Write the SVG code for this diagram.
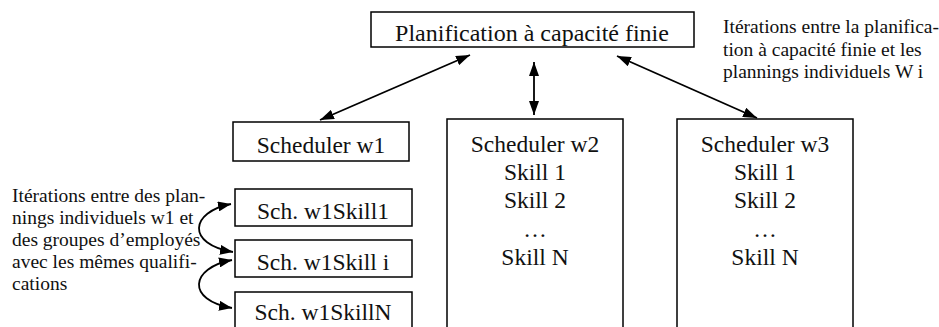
<svg xmlns="http://www.w3.org/2000/svg" width="939" height="327" viewBox="0 0 939 327">
<style>
.box{fill:#fff;stroke:#000;stroke-width:1.5}
.t{font-family:"Liberation Serif","Times New Roman",serif;font-size:23.5px;fill:#111;text-anchor:middle}
.a{font-family:"Liberation Serif","Times New Roman",serif;font-size:19.5px;fill:#111}
.c{fill:none;stroke:#000;stroke-width:1.8}
</style>
<defs>
<marker id="ah" viewBox="0 0 14 10" refX="14" refY="5" markerWidth="14" markerHeight="10" markerUnits="userSpaceOnUse" orient="auto-start-reverse"><path d="M0,0 L14,5 L0,10 z" fill="#000"/></marker>
<marker id="ahs" viewBox="0 0 13 10" refX="13" refY="5" markerWidth="13" markerHeight="10" markerUnits="userSpaceOnUse" orient="auto-start-reverse"><path d="M0,0 L13,5 L0,10 z" fill="#000"/></marker>
</defs>
<rect width="939" height="327" fill="#fff"/>
<g id="n-planif"><rect class="box" x="371" y="12" width="323" height="35"/><text class="t" x="532" y="41" style="font-size:24px">Planification à capacité finie</text></g>
<g id="n-w1"><rect class="box" x="233" y="122" width="176" height="39"/><text class="t" x="321" y="153">Scheduler w1</text></g>
<g id="n-w2"><rect class="box" x="447" y="119" width="176" height="212"/><text class="t" x="535" y="152">Scheduler w2</text><text class="t" x="535" y="180">Skill 1</text><text class="t" x="535" y="208">Skill 2</text><text class="t" x="535" y="237">…</text><text class="t" x="535" y="265">Skill N</text></g>
<g id="n-w3"><rect class="box" x="677" y="119" width="176" height="212"/><text class="t" x="765" y="152">Scheduler w3</text><text class="t" x="765" y="180">Skill 1</text><text class="t" x="765" y="208">Skill 2</text><text class="t" x="765" y="237">…</text><text class="t" x="765" y="265">Skill N</text></g>
<g id="n-s1"><rect class="box" x="235" y="189" width="177" height="37"/><text class="t" x="323" y="219">Sch. w1Skill1</text></g>
<g id="n-si"><rect class="box" x="235" y="240" width="177" height="37"/><text class="t" x="323" y="270">Sch. w1Skill i</text></g>
<g id="n-sn"><rect class="box" x="235" y="292" width="177" height="40"/><text class="t" x="323" y="320">Sch. w1SkillN</text></g>
<g id="note-right"><text class="a" x="723" y="33">Itérations entre la planifica-</text><text class="a" x="723" y="56">tion à capacité finie et les</text><text class="a" x="723" y="78">plannings individuels W i</text></g>
<g id="note-left"><text class="a" x="12" y="202">Itérations entre des plan-</text><text class="a" x="12" y="224">nings individuels w1 et</text><text class="a" x="12" y="246">des groupes d’employés</text><text class="a" x="12" y="268">avec les mêmes qualifi-</text><text class="a" x="12" y="290">cations</text></g>
<g id="connectors">
<line class="c" x1="320" y1="120" x2="470" y2="55" marker-start="url(#ah)" marker-end="url(#ah)"/>
<line class="c" x1="534" y1="62" x2="534" y2="115" marker-start="url(#ah)" marker-end="url(#ah)"/>
<line class="c" x1="617" y1="56" x2="757" y2="118" marker-start="url(#ah)" marker-end="url(#ah)"/>
<path class="c" d="M231,204 C190,212 186,244 233,252" marker-start="url(#ahs)" marker-end="url(#ahs)"/>
<path class="c" d="M232,260 C190,268 186,300 232,308" marker-start="url(#ahs)" marker-end="url(#ahs)"/>
</g>
</svg>
